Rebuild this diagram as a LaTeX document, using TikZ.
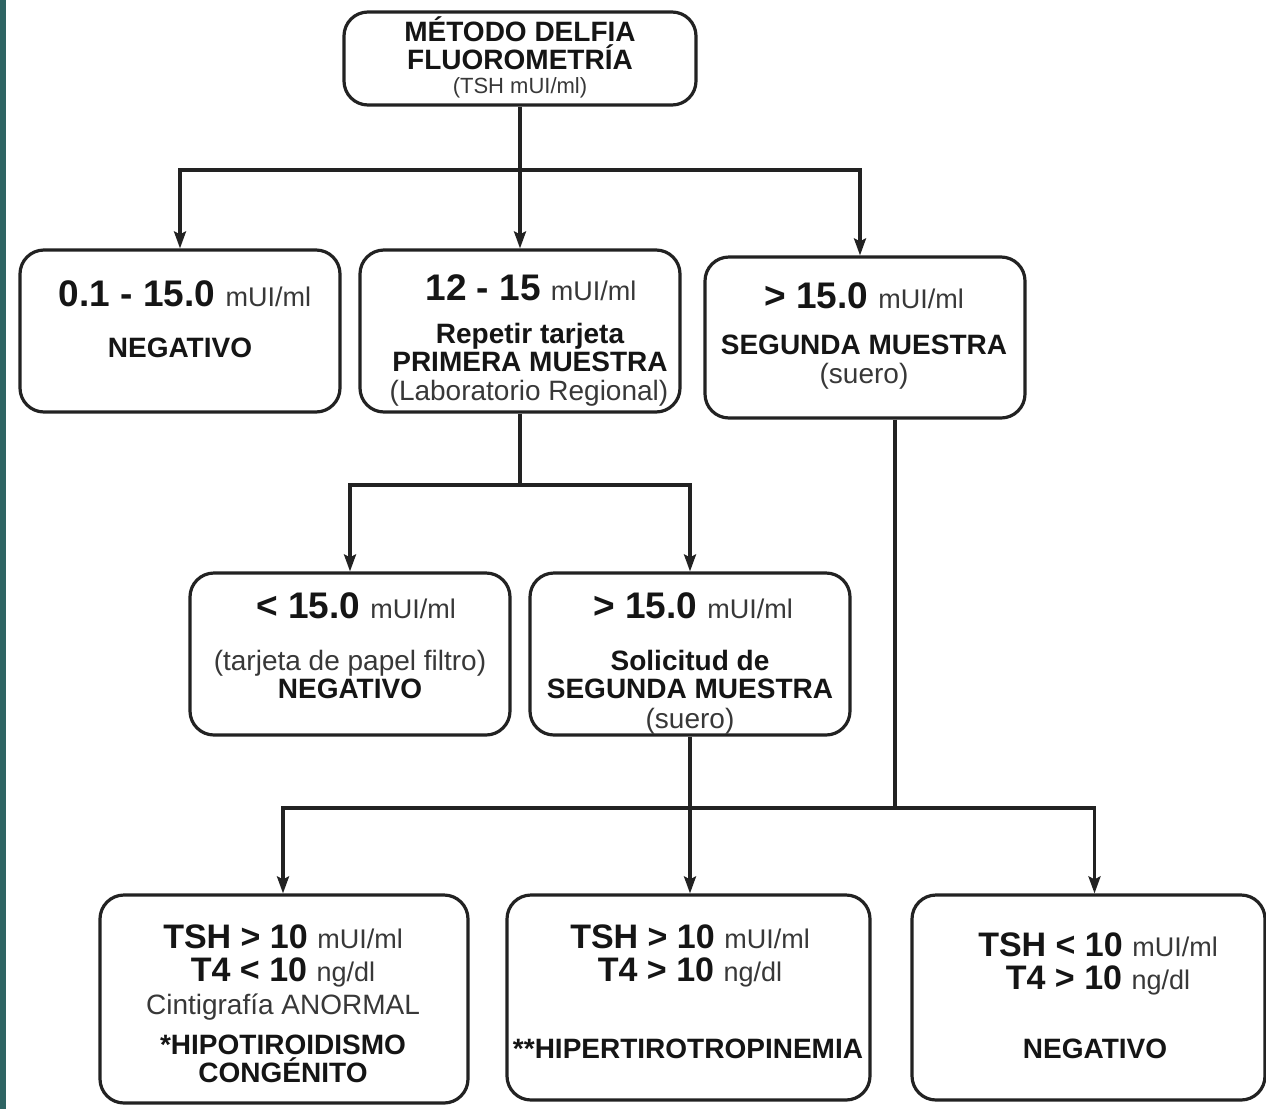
\documentclass[tikz,border=0pt]{standalone}
\usepackage{fontspec}
\setmainfont{Liberation Sans}
\usetikzlibrary{arrows.meta}
\definecolor{tealstrip}{HTML}{2E6463}
\definecolor{linec}{HTML}{222222}
\definecolor{txtb}{HTML}{151515}
\definecolor{txtr}{HTML}{383838}
\newcommand\myBig{\fontsize{37}{40}\selectfont\bfseries\color{txtb}}
\newcommand\myMid{\fontsize{34}{36}\selectfont\bfseries\color{txtb}}
\newcommand\myB{\fontsize{28}{30}\selectfont\bfseries\color{txtb}}
\newcommand\myR{\fontsize{28}{30}\selectfont\mdseries\color{txtr}}
\newcommand\myU{\fontsize{27}{30}\selectfont\mdseries\color{txtr}}
\newcommand\myS{\fontsize{22}{24}\selectfont\mdseries\color{txtr}}
\begin{document}
\begin{tikzpicture}[x=1pt,y=-1pt,
  box/.style={draw=linec, line width=3.2pt, rounded corners=24pt, fill=white, inner sep=0pt},
  lbl/.style={inner sep=0pt, anchor=base},
  ln/.style={line width=3.2pt, draw=linec},
  arr/.style={line width=3.2pt, draw=linec, -{Stealth[length=17pt,width=12pt,inset=3pt]}}]
\useasboundingbox (0,0) rectangle (1266,1109);
\fill[white] (0,0) rectangle (1266,1109);
\fill[tealstrip] (0,0) rectangle (6,1109);

% boxes
\node[box, minimum width=352pt, minimum height=93pt] (top) at (520,58.5) {};
\node[box, minimum width=320pt, minimum height=162pt] (A) at (180,331) {};
\node[box, minimum width=320pt, minimum height=162pt] (B) at (520,331) {};
\node[box, minimum width=320pt, minimum height=161pt] (C) at (865,337.5) {};
\node[box, minimum width=320pt, minimum height=162pt] (D) at (350,654) {};
\node[box, minimum width=320pt, minimum height=162pt] (E) at (690,654) {};
\node[box, minimum width=368pt, minimum height=208pt] (F) at (284,999) {};
\node[box, minimum width=363pt, minimum height=205pt] (G) at (688.5,997.5) {};
\node[box, minimum width=353pt, minimum height=205pt] (H) at (1088.5,997.5) {};

% connectors
\coordinate (j1) at (520,170);
\coordinate (j2) at (520,485);
\coordinate (j3) at (895,808);
\draw[ln] (top.south) -- (j1);
\draw[arr] (j1) -| (A.north);
\draw[arr] (j1) -- (B.north);
\draw[arr] (j1) -| ([xshift=-5pt]C.north);
\draw[ln] (B.south) -- (j2);
\draw[arr] (j2) -| (D.north);
\draw[arr] (j2) -| (E.north);
\draw[ln] (C.south -| j3) -- (j3);
\draw[arr] (j3) -| ([xshift=-1pt]F.north);
\draw[arr] (j3) -| ([xshift=6pt]H.north);
\draw[arr] (E.south) -- (E.south |- G.north);

% texts
\node[lbl] (t1) at (520,41) {\myB MÉTODO DELFIA};
\node[lbl] (t2) at (520,69) {\myB FLUOROMETRÍA};
\node[lbl] (t3) at (520,93) {\myS (TSH mUI/ml)};

\node[lbl] (a1) at (185,306) {\myBig 0.1 - 15.0 \myU mUI/ml};
\node[lbl] (a2) at (180,357) {\myB NEGATIVO};

\node[lbl] (b1) at (531,300) {\myBig 12 - 15 \myU mUI/ml};
\node[lbl] (b2) at (530,343) {\myB Repetir tarjeta};
\node[lbl] (b3) at (530,371) {\myB PRIMERA MUESTRA};
\node[lbl] (b4) at (529,400) {\myR (Laboratorio Regional)};

\node[lbl] (c1) at (864,308) {\myBig > 15.0 \myU mUI/ml};
\node[lbl] (c2) at (864,354) {\myB SEGUNDA MUESTRA};
\node[lbl] (c3) at (864,383) {\myR (suero)};

\node[lbl] (d1) at (356,618) {\myBig < 15.0 \myU mUI/ml};
\node[lbl] (d2) at (350,670) {\myR (tarjeta de papel filtro)};
\node[lbl] (d3) at (350,698) {\myB NEGATIVO};

\node[lbl] (e1) at (693,618) {\myBig > 15.0 \myU mUI/ml};
\node[lbl] (e2) at (690,670) {\myB Solicitud de};
\node[lbl] (e3) at (690,698) {\myB SEGUNDA MUESTRA};
\node[lbl] (e4) at (690,728) {\myR (suero)};

\node[lbl] (f1) at (283,948) {\myMid TSH > 10 \myU mUI/ml};
\node[lbl] (f2) at (283,981) {\myMid T4 < 10 \myU ng/dl};
\node[lbl] (f3) at (283,1014) {\myR Cintigrafía ANORMAL};
\node[lbl] (f4) at (283,1054) {\myB *HIPOTIROIDISMO};
\node[lbl] (f5) at (283,1082) {\myB CONGÉNITO};

\node[lbl] (g1) at (690,948) {\myMid TSH > 10 \myU mUI/ml};
\node[lbl] (g2) at (690,981) {\myMid T4 > 10 \myU ng/dl};
\node[lbl] (g3) at (688,1058) {\myB **HIPERTIROTROPINEMIA};

\node[lbl] (h1) at (1098,956) {\myMid TSH < 10 \myU mUI/ml};
\node[lbl] (h2) at (1098,989) {\myMid T4 > 10 \myU ng/dl};
\node[lbl] (h3) at (1095,1058) {\myB NEGATIVO};
\end{tikzpicture}
\end{document}
